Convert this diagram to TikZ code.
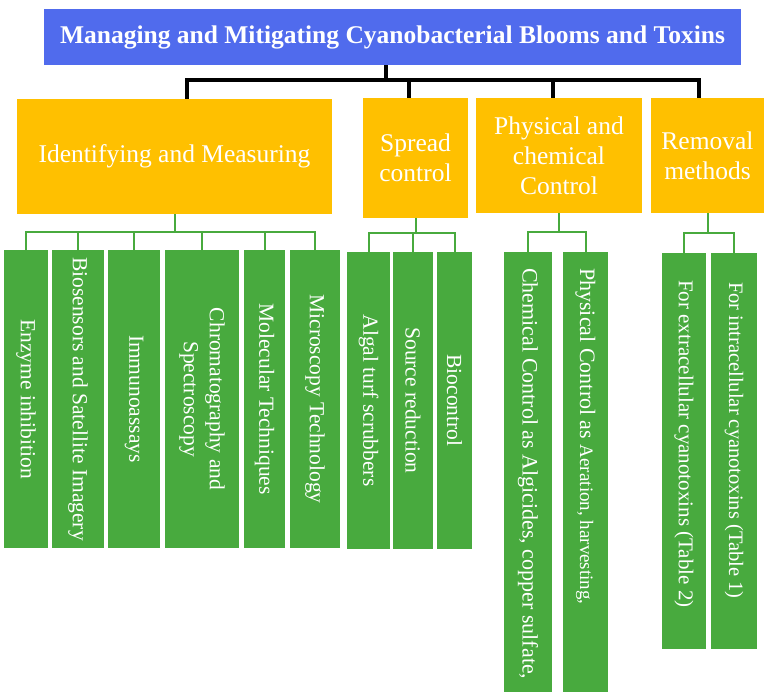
\documentclass[tikz,border=0pt]{standalone}
\usepackage{fontspec}
\setmainfont{Liberation Serif}
\definecolor{tblue}{RGB}{80,107,237}
\definecolor{tyell}{RGB}{255,192,0}
\definecolor{tgrn}{RGB}{72,170,62}
\begin{document}
\begin{tikzpicture}[x=1pt,y=-1pt,
  box/.style={anchor=north west, inner sep=0pt, outer sep=0pt},
  titlebox/.style={box, fill=tblue, text=white, font=\fontsize{25.5}{30}\selectfont\bfseries},
  ybox/.style={box, fill=tyell, text=white, align=center, font=\fontsize{25.5}{30}\selectfont},
  gbox/.style={box, fill=tgrn},
  gtext/.style={text=white, rotate=-90, align=center, inner sep=0pt, font=\fontsize{21.5}{26}\selectfont},
  blk/.style={line width=4pt, black},
  grn/.style={line width=2pt, tgrn}]
\useasboundingbox (0,0) rectangle (771,697);

% title
\node[titlebox, minimum width=697pt, minimum height=56pt] (title) at (44,9) {Managing and Mitigating Cyanobacterial Blooms and Toxins};

% yellow boxes
\node[ybox, minimum width=315pt, minimum height=115pt] (y1) at (17,99) {Identifying and Measuring};
\node[ybox, minimum width=105pt, minimum height=120pt] (y2) at (363,98) {Spread\\control};
\node[ybox, minimum width=166pt, minimum height=115pt] (y3) at (476,98) {Physical and\\chemical\\Control};
\node[ybox, minimum width=113pt, minimum height=115pt] (y4) at (651,98) {Removal\\methods};

% green boxes group 1
\node[gbox, minimum width=44pt, minimum height=298pt] (g11) at (4,250) {};
\node[gbox, minimum width=52pt, minimum height=298pt] (g12) at (52,250) {};
\node[gbox, minimum width=52pt, minimum height=298pt] (g13) at (108,250) {};
\node[gbox, minimum width=74pt, minimum height=298pt] (g14) at (165,250) {};
\node[gbox, minimum width=41pt, minimum height=298pt] (g15) at (244,250) {};
\node[gbox, minimum width=50pt, minimum height=298pt] (g16) at (290,250) {};
\node[gtext] at (g11.center) {Enzyme inhibition};
\node[gtext] at (g12.center) {Biosensors and Satellite Imagery};
\node[gtext] at (g13.center) {Immunoassays};
\node[gtext] at (g14.center) {Chromatography and\\Spectroscopy};
\node[gtext] at (g15.center) {Molecular Techniques};
\node[gtext] at (g16.center) {Microscopy Technology};

% group 2
\node[gbox, minimum width=43pt, minimum height=297pt] (g21) at (347,252) {};
\node[gbox, minimum width=40pt, minimum height=297pt] (g22) at (393,252) {};
\node[gbox, minimum width=35pt, minimum height=297pt] (g23) at (437,252) {};
\node[gtext] at (g21.center) {Algal turf scrubbers};
\node[gtext] at (g22.center) {Source reduction};
\node[gtext] at (g23.center) {Biocontrol};

% group 3
\node[gbox, minimum width=48pt, minimum height=440pt] (g31) at (504,252) {};
\node[gbox, minimum width=45pt, minimum height=440pt] (g32) at (563,252) {};
\node[gtext, anchor=west, font=\fontsize{22}{26}\selectfont] at ([yshift=-16pt]g31.north) {Chemical Control as Algicides, copper sulfate,};
\node[gtext, anchor=west, font=\fontsize{22}{26}\selectfont] at ([yshift=-16pt]g32.north) {Physical Control as {\fontsize{19}{23}\selectfont Aeration, harvesting,}};

% group 4
\node[gbox, minimum width=44pt, minimum height=396pt] (g41) at (662,253) {};
\node[gbox, minimum width=46pt, minimum height=396pt] (g42) at (711,253) {};
\node[gtext, anchor=west, font=\fontsize{21}{25}\selectfont] at ([yshift=-27pt]g41.north) {For extracellular cyanotoxins (Table 2)};
\node[gtext, anchor=west, font=\fontsize{20.5}{25}\selectfont] at ([yshift=-29pt]g42.north) {For intracellular cyanotoxins (Table 1)};

% black connectors
\path ([xshift=-6.5pt]title.south) ++(0,15) coordinate (hub);
\draw[blk] ([xshift=-6.5pt]title.south) -- (hub);
\draw[blk] (hub) -| ([xshift=12.5pt]y1.north);
\draw[blk] (hub) -| ([xshift=-6.5pt]y2.north);
\draw[blk] (hub) -| ([xshift=-6pt]y3.north);
\draw[blk] (hub) -| ([xshift=-8.5pt]y4.north);

% green connectors
\path (y1.south) ++(0,18) coordinate (h1);
\draw[grn] (y1.south) -- (h1);
\foreach \n in {g11,g12,g13,g14,g15,g16} \draw[grn] (h1) -| (\n.north);
\path (y2.south) ++(0,15) coordinate (h2);
\draw[grn] (y2.south) -- (h2);
\foreach \n in {g21,g22,g23} \draw[grn] (h2) -| (\n.north);
\path (y3.south) ++(0,19) coordinate (h3);
\draw[grn] (y3.south) -- (h3);
\foreach \n in {g31,g32} \draw[grn] (h3) -| (\n.north);
\path (y4.south) ++(0,20) coordinate (h4);
\draw[grn] (y4.south) -- (h4);
\foreach \n in {g41,g42} \draw[grn] (h4) -| (\n.north);
\end{tikzpicture}
\end{document}
